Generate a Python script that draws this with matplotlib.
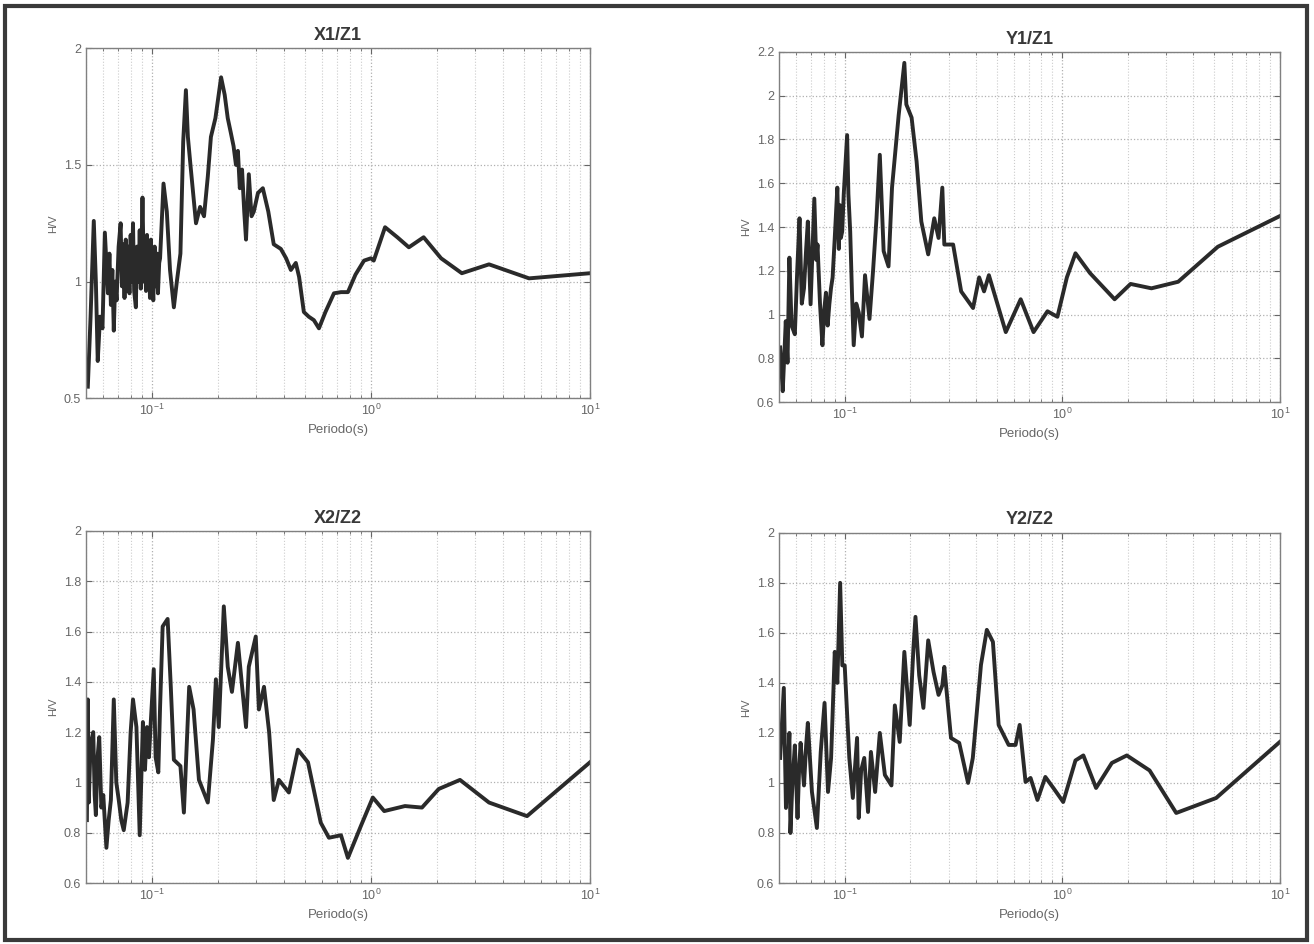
import numpy as np
import matplotlib.pyplot as plt
from matplotlib.patches import Rectangle
from matplotlib.ticker import LogLocator, NullFormatter, FixedLocator

plt.rcParams['font.family'] = ['Liberation Sans', 'DejaVu Sans']

# periodo (s) y cociente H/V
x1z1_T = [0.051, 0.0525, 0.0543, 0.0555, 0.0566, 0.058, 0.0595, 0.061, 0.063, 0.064,
          0.065, 0.066, 0.067, 0.068, 0.069, 0.0705, 0.072, 0.073, 0.074, 0.075,
          0.076, 0.077, 0.078, 0.079, 0.080, 0.081, 0.082, 0.083, 0.0845, 0.0855,
          0.087, 0.088, 0.089, 0.0906, 0.092, 0.093, 0.094, 0.095, 0.096, 0.097,
          0.098, 0.099, 0.1005, 0.1015, 0.103, 0.104, 0.1055, 0.1066, 0.108, 0.109,
          0.113, 0.117, 0.121, 0.126, 0.13, 0.135, 0.139, 0.143, 0.146, 0.15,
          0.159, 0.166, 0.173, 0.18, 0.186, 0.195, 0.207, 0.215, 0.222, 0.229,
          0.236, 0.242, 0.247, 0.252, 0.258, 0.264, 0.269, 0.277, 0.285, 0.292,
          0.305, 0.321, 0.34, 0.36, 0.388, 0.41, 0.431, 0.454, 0.47, 0.494,
          0.52, 0.549, 0.579, 0.62, 0.678, 0.73, 0.785, 0.85, 0.93, 1.0,
          1.03, 1.16, 1.32, 1.49, 1.74, 2.09, 2.6, 3.46, 5.27, 10]
x1z1_HV = [0.55, 0.85, 1.26, 1.0, 0.66, 0.85, 0.80, 1.21, 0.95, 1.12,
           0.90, 1.05, 0.79, 1.0, 0.92, 1.15, 1.25, 0.98, 1.16, 0.93,
           1.18, 0.96, 1.15, 0.95, 1.20, 1.0, 1.25, 0.96, 0.89, 1.15,
           1.0, 1.22, 0.97, 1.36, 1.0, 1.18, 0.96, 1.20, 1.0, 1.16,
           0.93, 1.18, 1.0, 0.92, 1.15, 0.98, 1.12, 0.95, 1.08, 1.10,
           1.42, 1.30, 1.05, 0.89, 1.0, 1.12, 1.60, 1.82, 1.62, 1.50,
           1.25, 1.32, 1.28, 1.45, 1.62, 1.70, 1.875, 1.80, 1.70, 1.64,
           1.58, 1.50, 1.56, 1.40, 1.48, 1.30, 1.18, 1.46, 1.28, 1.30,
           1.38, 1.40, 1.30, 1.16, 1.14, 1.10, 1.05, 1.08, 1.02, 0.87,
           0.85, 0.835, 0.80, 0.87, 0.95, 0.955, 0.955, 1.03, 1.09, 1.10,
           1.09, 1.233, 1.19, 1.147, 1.19, 1.10, 1.036, 1.074, 1.014, 1.036]

y1z1_T = [0.0505, 0.0519, 0.0527, 0.0536, 0.0546, 0.0557, 0.057, 0.059, 0.0605, 0.062,
          0.0635, 0.065, 0.0665, 0.0677, 0.0697, 0.0725, 0.074, 0.075, 0.077, 0.079,
          0.0805, 0.082, 0.0835, 0.085, 0.0865, 0.088, 0.09, 0.0925, 0.094, 0.095,
          0.096, 0.0974, 0.099, 0.1026, 0.104, 0.106, 0.108, 0.110, 0.113, 0.116,
          0.12, 0.124, 0.13, 0.135, 0.14, 0.145, 0.151, 0.159, 0.165, 0.177,
          0.188, 0.192, 0.203, 0.214, 0.225, 0.242, 0.258, 0.27, 0.281, 0.287,
          0.315, 0.343, 0.389, 0.415, 0.437, 0.46, 0.55, 0.644, 0.738, 0.855,
          0.95, 1.05, 1.15, 1.34, 1.74, 2.06, 2.57, 3.41, 5.19, 10]
y1z1_HV = [0.85, 0.65, 0.80, 0.97, 0.78, 1.26, 0.95, 0.91, 1.20, 1.44,
           1.05, 1.12, 1.30, 1.425, 1.047, 1.53, 1.25, 1.32, 1.05, 0.86,
           1.02, 1.10, 0.95, 1.047, 1.12, 1.17, 1.35, 1.58, 1.30, 1.50,
           1.35, 1.38, 1.55, 1.82, 1.55, 1.38, 1.10, 0.86, 1.05, 1.01,
           0.90, 1.18, 0.98, 1.20, 1.44, 1.73, 1.29, 1.22, 1.58, 1.91,
           2.15, 1.96, 1.90, 1.70, 1.425, 1.275, 1.44, 1.35, 1.58, 1.32,
           1.32, 1.106, 1.03, 1.17, 1.106, 1.18, 0.92, 1.07, 0.92, 1.015,
           0.99, 1.17, 1.28, 1.19, 1.07, 1.14, 1.12, 1.15, 1.31, 1.45]

x2z2_T = [0.0505, 0.051, 0.0515, 0.0525, 0.054, 0.0548, 0.0555, 0.0565, 0.0575, 0.0588,
          0.06, 0.062, 0.0635, 0.065, 0.067, 0.0688, 0.0706, 0.0725, 0.0744, 0.0775,
          0.08, 0.082, 0.085, 0.088, 0.091, 0.093, 0.095, 0.097, 0.099, 0.102,
          0.104, 0.107, 0.109, 0.112, 0.118, 0.122, 0.126, 0.135, 0.14, 0.148,
          0.155, 0.164, 0.18, 0.19, 0.196, 0.202, 0.213, 0.222, 0.232, 0.247,
          0.269, 0.277, 0.298, 0.308, 0.325, 0.343, 0.36, 0.38, 0.422, 0.464,
          0.516, 0.59, 0.643, 0.73, 0.785, 0.9, 1.02, 1.15, 1.43, 1.71,
          2.04, 2.55, 3.46, 5.16, 10]
x2z2_HV = [0.85, 1.33, 0.92, 1.15, 1.20, 0.95, 0.87, 1.10, 1.18, 0.90,
           0.95, 0.74, 0.85, 0.93, 1.33, 1.0, 0.93, 0.85, 0.81, 0.92,
           1.20, 1.33, 1.22, 0.79, 1.24, 1.05, 1.22, 1.10, 1.25, 1.45,
           1.10, 1.04, 1.30, 1.62, 1.65, 1.38, 1.09, 1.065, 0.88, 1.38,
           1.29, 1.01, 0.92, 1.17, 1.41, 1.22, 1.70, 1.46, 1.36, 1.555,
           1.22, 1.46, 1.58, 1.29, 1.38, 1.20, 0.93, 1.01, 0.96, 1.13,
           1.08, 0.84, 0.78, 0.79, 0.70, 0.827, 0.94, 0.886, 0.906, 0.90,
           0.974, 1.01, 0.92, 0.866, 1.08]

y2z2_T = [0.0505, 0.0525, 0.0537, 0.0547, 0.0557, 0.0563, 0.0575, 0.059, 0.0607, 0.0617,
          0.0627, 0.065, 0.0665, 0.0677, 0.0707, 0.0745, 0.0776, 0.0808, 0.0838, 0.0866,
          0.090, 0.0925, 0.0953, 0.0975, 0.1, 0.105, 0.109, 0.114, 0.116, 0.119,
          0.123, 0.128, 0.132, 0.138, 0.145, 0.153, 0.164, 0.17, 0.179, 0.188,
          0.199, 0.207, 0.2115, 0.22, 0.23, 0.242, 0.256, 0.27, 0.281, 0.287,
          0.308, 0.336, 0.369, 0.388, 0.423, 0.45, 0.48, 0.51, 0.567, 0.61,
          0.637, 0.678, 0.715, 0.769, 0.836, 0.91, 1.01, 1.15, 1.25, 1.43,
          1.69, 1.98, 2.52, 3.34, 5.1, 10]
y2z2_HV = [1.10, 1.38, 0.90, 1.05, 1.20, 0.80, 1.0, 1.15, 0.86, 1.05,
           1.16, 0.99, 1.15, 1.24, 0.964, 0.82, 1.124, 1.32, 0.964, 1.10,
           1.524, 1.40, 1.80, 1.47, 1.47, 1.10, 0.94, 1.18, 0.86, 1.05,
           1.10, 0.884, 1.124, 0.964, 1.20, 1.032, 0.99, 1.31, 1.164, 1.524,
           1.232, 1.54, 1.664, 1.43, 1.30, 1.57, 1.444, 1.352, 1.39, 1.464,
           1.18, 1.16, 1.0, 1.10, 1.472, 1.612, 1.564, 1.232, 1.152, 1.152,
           1.232, 1.004, 1.02, 0.932, 1.024, 0.98, 0.924, 1.09, 1.11, 0.98,
           1.08, 1.11, 1.05, 0.88, 0.94, 1.164]

titles = ["X1/Z1", "Y1/Z1", "X2/Z2", "Y2/Z2"]
series = [(x1z1_T, x1z1_HV), (y1z1_T, y1z1_HV), (x2z2_T, x2z2_HV), (y2z2_T, y2z2_HV)]
ylims = [(0.5, 2.0), (0.6, 2.2), (0.6, 2.0), (0.6, 2.0)]
yticks = [[0.5, 1.0, 1.5, 2.0],
          [0.6, 0.8, 1.0, 1.2, 1.4, 1.6, 1.8, 2.0, 2.2],
          [0.6, 0.8, 1.0, 1.2, 1.4, 1.6, 1.8, 2.0],
          [0.6, 0.8, 1.0, 1.2, 1.4, 1.6, 1.8, 2.0]]
positions = [[0.0654, 0.578, 0.3836, 0.371],
             [0.593, 0.574, 0.381, 0.371],
             [0.0654, 0.0646, 0.3836, 0.373],
             [0.593, 0.0646, 0.381, 0.371]]

fig = plt.figure(figsize=(13.14, 9.44), dpi=100)
fig.patch.set_facecolor('white')

# marco exterior
fig.add_artist(Rectangle((0.004, 0.004), 0.991, 0.99, transform=fig.transFigure,
                         fill=False, edgecolor='#3a3a3a', linewidth=3))

grey = '#666666'
for i in range(4):
    ax = fig.add_axes(positions[i])
    T, hv = series[i]
    ax.plot(T, hv, color='#2a2a2a', linewidth=2.8)
    ax.set_xscale('log')
    ax.set_xlim(0.05, 10)
    ax.set_ylim(*ylims[i])
    ax.yaxis.set_major_locator(FixedLocator(yticks[i]))
    ax.set_yticklabels(['%g' % v for v in yticks[i]])
    ax.xaxis.set_major_locator(LogLocator(base=10, numticks=10))
    ax.xaxis.set_minor_locator(LogLocator(base=10, subs=np.arange(2, 10), numticks=20))
    ax.xaxis.set_minor_formatter(NullFormatter())
    ax.grid(which='major', linestyle=':', color='#b0b0b0', linewidth=0.9)
    ax.grid(which='minor', axis='x', linestyle=':', color='#cccccc', linewidth=0.8)
    ax.tick_params(which='both', direction='in', top=True, right=True,
                   labelsize=9, colors=grey, length=4)
    ax.tick_params(which='minor', length=2)
    for s in ax.spines.values():
        s.set_color('#808080')
        s.set_linewidth(1.0)
    ax.set_title(titles[i], fontsize=13, fontweight='bold', color='#383838', pad=6)
    ax.set_xlabel('Periodo(s)', fontsize=9.5, color=grey)
    ax.set_ylabel('H/V', fontsize=8, color=grey)

fig.savefig('out.png', dpi=100)
